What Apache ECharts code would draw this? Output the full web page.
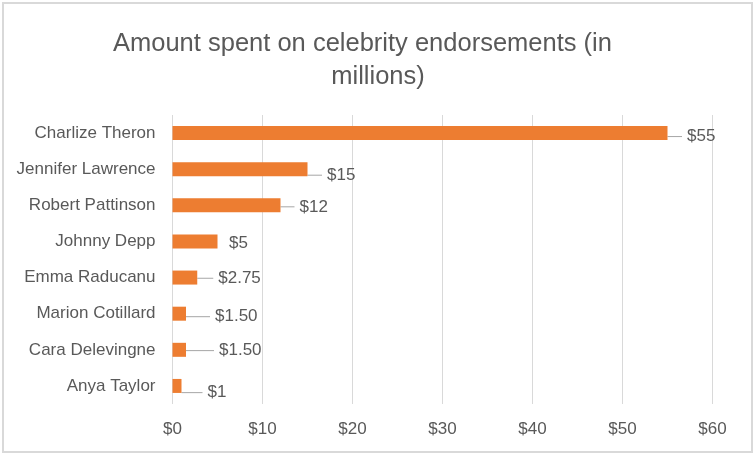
<!DOCTYPE html>
<html>
<head>
<meta charset="utf-8">
<script src="https://cdn.jsdelivr.net/npm/echarts@6/dist/echarts.min.js"></script>
<style>
html,body{margin:0;padding:0;background:#fff;}
#chart{width:756px;height:456px;}
</style>
</head>
<body>
<div id="chart"></div>
<script>
const categories = ['Charlize Theron','Jennifer Lawrence','Robert Pattinson','Johnny Depp','Emma Raducanu','Marion Cotillard','Cara Delevingne','Anya Taylor'];
const values = [55, 15, 12, 5, 2.75, 1.5, 1.5, 1];
const valueLabels = ['$55','$15','$12','$5','$2.75','$1.50','$1.50','$1'];
const tickLabels = ['$0','$10','$20','$30','$40','$50','$60'];
const labelDx = [14.5, 14.5, 14, 6.5, 16, 24, 28, 21];
const labelDy = [3.5, 6, 1.5, 2, 0.7, 3, 0.8, 6.7];
const showLeader = [true, true, true, false, true, true, true, true];

const FONT = 'Liberation Sans';
const GAP = 5;
const chart = echarts.init(document.getElementById('chart'), null, {renderer:'canvas'});
chart.setOption({
  animation: false,
  backgroundColor: '#ffffff',
  title: [{
    text: 'Amount spent on celebrity endorsements (in',
    left: 108,
    top: 26,
    textStyle: {fontFamily: FONT, fontSize: 25.5, fontWeight: 'normal', color: '#595959'}
  }, {
    text: 'millions)',
    left: 'center',
    top: 59,
    textStyle: {fontFamily: FONT, fontSize: 25.5, fontWeight: 'normal', color: '#595959'}
  }],
  grid: {left: 172.5, right: 43.5, top: 115, bottom: 52, containLabel: false},
  xAxis: {
    type: 'value', min: 0, max: 60, interval: 10,
    axisLine: {show: false}, axisTick: {show: false},
    splitLine: {show: true, lineStyle: {color: '#D9D9D9', width: 1}},
    axisLabel: {
      fontFamily: FONT, fontSize: 17, color: '#595959', margin: 17,
      formatter: function (v) { return tickLabels[Math.round(v / 10)]; }
    }
  },
  yAxis: {
    type: 'category', data: categories, inverse: true,
    axisLine: {show: false}, axisTick: {show: false},
    axisLabel: {fontFamily: FONT, fontSize: 17, color: '#595959', margin: 17}
  },
  series: [{
    type: 'bar',
    data: values.map(function (v, i) { return {value: v, labelLine: {show: showLeader[i]}}; }),
    barWidth: 14,
    itemStyle: {color: '#ED7D31'},
    label: {
      show: true, position: 'right', distance: 5,
      fontFamily: FONT, fontSize: 17, color: '#595959',
      formatter: function (p) { return '{g|}' + valueLabels[p.dataIndex]; },
      rich: {g: {width: GAP, fontSize: 17}}
    },
    labelLine: {show: true, lineStyle: {color: '#A6A6A6', width: 1}},
    labelLayout: function (p) {
      return {dx: labelDx[p.dataIndex] - GAP, dy: labelDy[p.dataIndex]};
    }
  }],
  graphic: [{
    type: 'rect', silent: true, z: 100,
    shape: {x: 3, y: 3, width: 749, height: 449},
    style: {fill: 'none', stroke: '#D9D9D9', lineWidth: 2}
  }]
});
</script>
</body>
</html>
